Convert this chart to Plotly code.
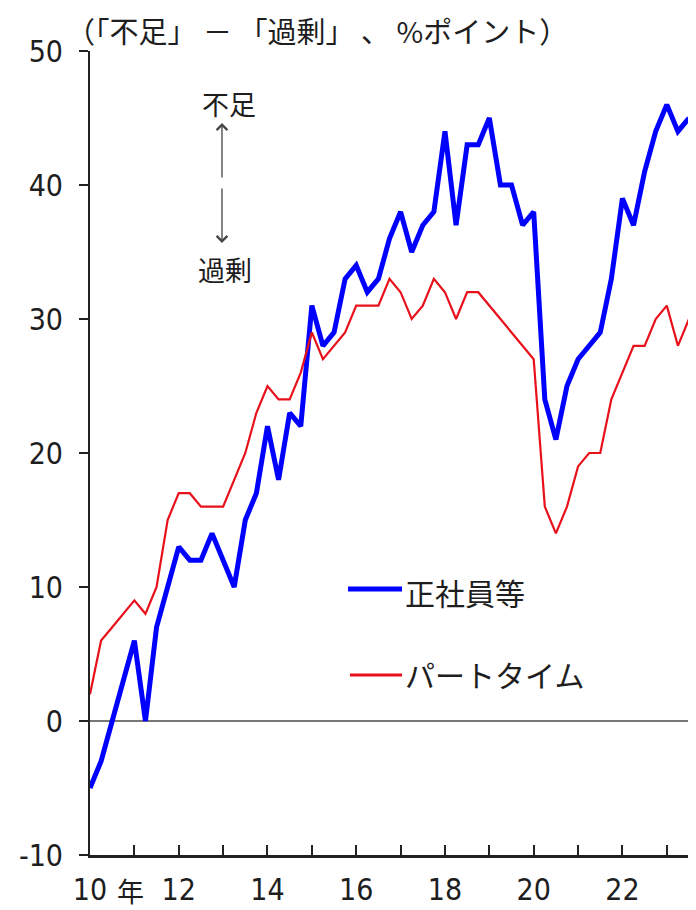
import plotly.graph_objects as go

# quarterly periods 2010Q1 .. 2023Q3
years = list(range(2010, 2024))
quarters = [(y, q) for y in years for q in (1, 2, 3, 4)][:55]
x_pos = [y + (q - 1) / 4 for y, q in quarters]

seishain = [-5, -3, 0, 3, 6, 0, 7, 10, 13, 12, 12, 14, 12, 10, 15, 17, 22, 18, 23, 22,
            31, 28, 29, 33, 34, 32, 33, 36, 38, 35, 37, 38, 44, 37, 43, 43, 45, 40, 40, 37,
            38, 24, 21, 25, 27, 28, 29, 33, 39, 37, 41, 44, 46, 44, 45]
part = [2, 6, 7, 8, 9, 8, 10, 15, 17, 17, 16, 16, 16, 18, 20, 23, 25, 24, 24, 26,
        29, 27, 28, 29, 31, 31, 31, 33, 32, 30, 31, 33, 32, 30, 32, 32, 31, 30, 29, 28,
        27, 16, 14, 16, 19, 20, 20, 24, 26, 28, 28, 30, 31, 28, 30]

series_names = ["正社員等", "パートタイム"]
x_tickvals = list(range(2010, 2024))
x_ticktext = ["10", "", "12", "", "14", "", "16", "", "18", "", "20", "", "22", ""]
y_tickvals = [-10, 0, 10, 20, 30, 40, 50]
y_ticktext = ["-10", "0", "10", "20", "30", "40", "50"]
title_text = "（「不足」 － 「過剰」 、 %ポイント）"

NUM_FONT = "Liberation Sans Narrow, DejaVu Sans Condensed, Arial Narrow, sans-serif"
JP_FONT = "Noto Sans CJK JP, sans-serif"
TXT = "#1e1e1e"

fig = go.Figure()
fig.add_trace(go.Scatter(x=x_pos, y=seishain, mode="lines", name=series_names[0],
                         line=dict(color="#0000ff", width=5), showlegend=False))
fig.add_trace(go.Scatter(x=x_pos, y=part, mode="lines", name=series_names[1],
                         line=dict(color="#e8101a", width=2.2), showlegend=False))

# page has an 8px body margin; size the figure to fit the 696x910 window
OFF = 8
W, H = 696 - OFF, 910 - OFF
PL, PR, PT, PB = 90, 689, 51, 855  # plot area in window pixels
L, R, T, B = PL - OFF, W - (PR - OFF), PT - OFF, H - (PB - OFF)
pw, ph = PR - PL, PB - PT


def px(x):
    return (x - PL) / pw


def py(y):
    return (PB - y) / ph


fig.update_layout(
    width=W, height=H,
    margin=dict(l=L, r=R, t=T, b=B, autoexpand=False),
    paper_bgcolor="white", plot_bgcolor="white",
    showlegend=False,
)
fig.update_xaxes(
    range=[2010, 2023.5], tickvals=x_tickvals, ticktext=x_ticktext,
    ticks="inside", ticklen=10, tickwidth=2, tickcolor="#222",
    showline=True, linecolor="#222", linewidth=2.5,
    showgrid=False, zeroline=False, automargin=False,
    tickfont=dict(family=NUM_FONT, size=30, color=TXT),
    ticklabelstandoff=6,
)
fig.update_yaxes(
    range=[-10, 50], tickvals=y_tickvals, ticktext=y_ticktext,
    ticks="outside", ticklen=9, tickwidth=2, tickcolor="#222",
    showline=True, linecolor="#222", linewidth=2,
    showgrid=False, zeroline=True, zerolinecolor="#777", zerolinewidth=1.8,
    automargin=False,
    tickfont=dict(family=NUM_FONT, size=30, color=TXT),
    ticklabelstandoff=10,
)

ann = []
ann.append(dict(text=title_text, xref="paper", yref="paper", x=px(64), y=py(30),
                xanchor="left", yanchor="middle", showarrow=False,
                font=dict(family=JP_FONT, size=29, color=TXT)))
ann.append(dict(text="年", xref="paper", yref="paper", x=px(130), y=py(890),
                xanchor="center", yanchor="middle", showarrow=False,
                font=dict(family=JP_FONT, size=27, color=TXT)))
ann.append(dict(text="不足", xref="paper", yref="paper", x=px(229), y=py(103),
                xanchor="center", yanchor="middle", showarrow=False,
                font=dict(family=JP_FONT, size=27, color=TXT)))
ann.append(dict(text="過剰", xref="paper", yref="paper", x=px(225), y=py(269),
                xanchor="center", yanchor="middle", showarrow=False,
                font=dict(family=JP_FONT, size=27, color=TXT)))
# arrows
ann.append(dict(text="", xref="paper", yref="paper", x=px(222), y=py(123),
                ax=0, ay=56, showarrow=True, arrowhead=4, arrowsize=1.6,
                arrowwidth=1.3, arrowcolor="#444"))
ann.append(dict(text="", xref="paper", yref="paper", x=px(222), y=py(243),
                ax=0, ay=-56, showarrow=True, arrowhead=4, arrowsize=1.6,
                arrowwidth=1.3, arrowcolor="#444"))
# legend labels
ann.append(dict(text=series_names[0], xref="paper", yref="paper", x=px(403), y=py(592),
                xanchor="left", yanchor="middle", showarrow=False,
                font=dict(family=JP_FONT, size=30, color=TXT)))
ann.append(dict(text=series_names[1], xref="paper", yref="paper", x=px(403), y=py(674),
                xanchor="left", yanchor="middle", showarrow=False,
                font=dict(family=JP_FONT, size=30, color=TXT)))
fig.update_layout(annotations=ann)

fig.update_layout(shapes=[
    dict(type="line", xref="paper", yref="paper", x0=px(348), x1=px(402),
         y0=py(589), y1=py(589), line=dict(color="#0000ff", width=5)),
    dict(type="line", xref="paper", yref="paper", x0=px(350), x1=px(402),
         y0=py(675), y1=py(675), line=dict(color="#e8101a", width=3)),
])

fig.write_html("out.html")
